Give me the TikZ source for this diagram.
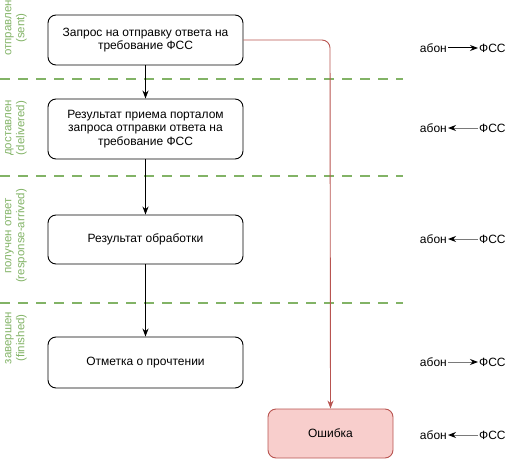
\documentclass[tikz,border=0pt]{standalone}
\usepackage{fontspec}
\setmainfont{Liberation Sans}
\usetikzlibrary{arrows.meta}
\definecolor{grn}{HTML}{82B366}
\definecolor{redl}{HTML}{B85450}
\definecolor{redf}{HTML}{F8CECC}
\definecolor{grayl}{HTML}{7A7A7A}
\begin{document}
\begin{tikzpicture}[x=1pt,y=-1pt,
  box/.style={draw=black, line width=0.9pt, rounded corners=8pt, align=center, font=\fontsize{12}{13.5}\selectfont, inner sep=2pt},
  errbox/.style={box, draw=redl, fill=redf},
  sidelbl/.style={rotate=90, text=grn, align=center, font=\fontsize{11.5}{13}\selectfont, inner sep=0pt},
  sep/.style={draw=grn, line width=2.6pt, dash pattern=on 10pt off 8pt},
  flow/.style={draw=black, line width=0.9pt, -{Stealth[length=8pt,width=6pt]}},
  rlbl/.style={font=\fontsize{12}{13.5}\selectfont, inner sep=1pt},
  rarr/.style={line width=1pt, -{Stealth[length=8pt,width=6pt,color=black]}}
]
\useasboundingbox (0,0) rectangle (519,460);

% separators
\coordinate (s1a) at (0,79);  \coordinate (s1b) at (403,79);
\coordinate (s2a) at (0,176); \coordinate (s2b) at (403,176);
\coordinate (s3a) at (0,303); \coordinate (s3b) at (403,303);
\draw[sep] (s1a) -- (s1b);
\draw[sep] (s2a) -- (s2b);
\draw[sep] (s3a) -- (s3b);

% side labels
\node[sidelbl] (l1) at (16,28) {отправлен\\(sent)};
\node[sidelbl] (l2) at (16,128) {доставлен\\(delivered)};
\node[sidelbl] (l3) at (16,236) {получен ответ\\(response-arrived)};
\node[sidelbl] (l4) at (16,338) {завершен\\(finished)};

% boxes
\node[box, minimum width=195pt, minimum height=50pt] (b1) at (145.5,40) {Запрос на отправку ответа на\\требование ФСС};
\node[box, minimum width=195pt, minimum height=60pt] (b2) at (145.5,129) {Результат приема порталом\\запроса отправки ответа на\\требование ФСС};
\node[box, minimum width=195pt, minimum height=49pt] (b3) at (145.5,239.5) {Результат обработки};
\node[box, minimum width=195pt, minimum height=51pt] (b4) at (145.5,362.5) {Отметка о прочтении};
\node[errbox, minimum width=125pt, minimum height=49pt] (err) at (330.5,433.5) {Ошибка};

% flow
\draw[flow] (b1) -- (b2);
\draw[flow] (b2) -- (b3);
\draw[flow] (b3) -- (b4);
\coordinate (rc) at (330,40);
\draw[draw=redl, line width=0.9pt, rounded corners=8pt, -{Stealth[length=8pt,width=6pt]}] (b1.east |- rc) -- (rc) -- (err.north);

% right labels
\foreach \i/\y in {1/48, 2/128, 3/239, 4/362, 5/435}{
  \node[rlbl, anchor=east] (a\i) at (448,\y) {абон};
  \node[rlbl, anchor=west] (f\i) at (478,\y) {ФСС};
}
\draw[rarr, draw=black] (a1) -- (f1);
\draw[rarr, draw=grayl] (f2) -- (a2);
\draw[rarr, draw=grayl] (f3) -- (a3);
\draw[rarr, draw=grayl] (a4) -- (f4);
\draw[rarr, draw=grayl] (f5) -- (a5);
\end{tikzpicture}
\end{document}
